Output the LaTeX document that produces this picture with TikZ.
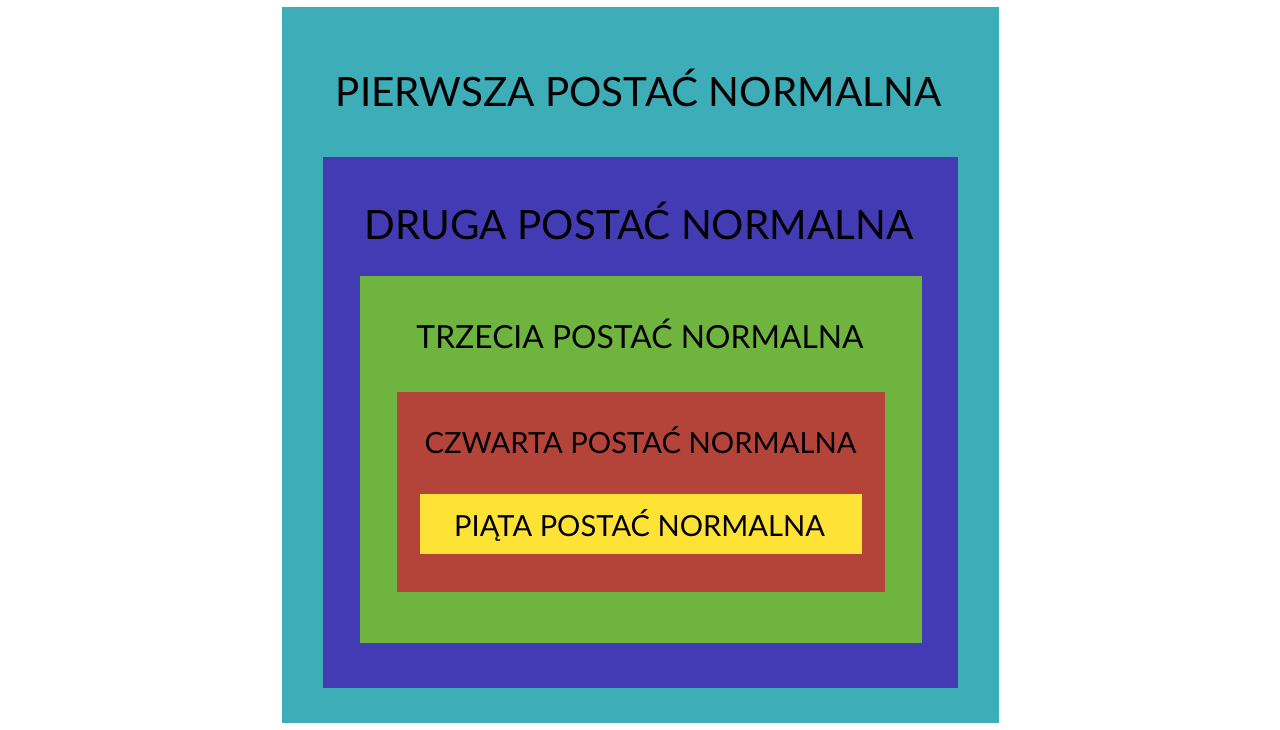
\documentclass[tikz,border=0pt]{standalone}
\usepackage{fontspec}
\setmainfont{Lato}
\usepackage{tikz}
\usetikzlibrary{positioning}
\definecolor{nfone}{HTML}{3DADB8}
\definecolor{nftwo}{HTML}{433BB3}
\definecolor{nfthree}{HTML}{6EB43F}
\definecolor{nffour}{HTML}{B4443A}
\definecolor{nffive}{HTML}{FFE236}
\tikzstyle{level} = [rectangle, inner sep=0pt, anchor=north west]
\tikzstyle{label} = [inner sep=0pt, anchor=base, text=black]

\begin{document}
\begin{tikzpicture}[x=1pt, y=-1pt]
                \useasboundingbox (0,0) rectangle (1280,730);
                % Create Levels
                
                \node [level, fill=nfone, minimum width=717pt, minimum height=716pt] (lvl1) at (282,7) {};
                \node [level, fill=nftwo, minimum width=635pt, minimum height=531pt] (lvl2) at (323,157) {};
                \node [level, fill=nfthree, minimum width=562pt, minimum height=367pt] (lvl3) at (360,276) {};
                \node [level, fill=nffour, minimum width=488pt, minimum height=200pt] (lvl4) at (397,392) {};
                \node [level, fill=nffive, minimum width=442pt, minimum height=60pt] (lvl5) at (420,494) {};
                
                % Add Labels
                \node [label, font=\fontsize{40.4}{48}\selectfont] (nf1) at (638.5,107) {PIERWSZA POSTAĆ NORMALNA};
                \node [label, font=\fontsize{40.4}{48}\selectfont] (nf2) at (639,240) {DRUGA POSTAĆ NORMALNA};
                \node [label, font=\fontsize{31.8}{36}\selectfont] (nf3) at (640,348) {TRZECIA POSTAĆ NORMALNA};
                \node [label, font=\fontsize{29.2}{36}\selectfont] (nf4) at (640.5,453) {CZWARTA POSTAĆ NORMALNA};
                \node [label, font=\fontsize{29.1}{36}\selectfont] (nf5) at (639.5,536) {PIĄTA POSTAĆ NORMALNA};
            \end{tikzpicture}
\end{document}
